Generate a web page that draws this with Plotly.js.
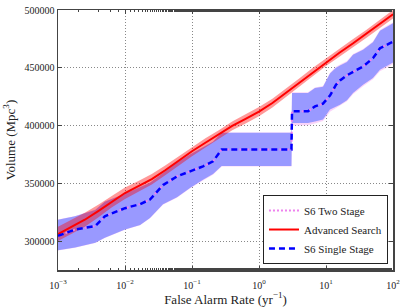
<!DOCTYPE html>
<html><head><meta charset="utf-8">
<script src="https://cdn.plot.ly/plotly-3.0.1.min.js"></script>
<style>html,body{margin:0;padding:0;background:#fff}#chart{width:407px;height:307px}</style>
</head><body><div id="chart"></div>
<script>
// Advanced Search (red)
const advFAR = [0.001, 0.001585, 0.002512, 0.003981, 0.00631, 0.01, 0.01585, 0.02512, 0.03981, 0.0631, 0.1, 0.1585, 0.2512, 0.3981, 0.631, 1, 1.585, 2.512, 3.981, 6.31, 10, 15.85, 25.12, 39.81, 63.1, 100];
const advVol = [306000, 312300, 318500, 326000, 334000, 341600, 347600, 353600, 361300, 369600, 377800, 385100, 392400, 399700, 405800, 412000, 419500, 428300, 437200, 446200, 455000, 463000, 471000, 479200, 487600, 496300];
const advUpper = [312500, 318500, 324500, 331500, 339000, 346500, 352000, 358000, 365500, 373500, 381500, 389000, 396000, 403500, 409800, 416000, 423300, 431800, 440800, 449900, 458400, 466500, 474700, 482700, 491000, 500000];
const advLower = [300000, 306500, 312500, 320500, 329000, 336500, 343000, 349000, 357000, 365500, 373500, 381000, 388500, 396000, 401800, 408000, 415700, 424800, 433600, 442500, 451600, 459500, 467300, 475700, 484200, 492600];

// S6 Single Stage (blue)
const s6FAR = [0.001, 0.0018, 0.0036, 0.005, 0.01, 0.0168, 0.0236, 0.0369, 0.0597, 0.0933, 0.146, 0.206, 0.277, 3.05, 3.11, 5.38, 6.85, 9.02, 11.47, 14.1, 16.18, 20.57, 25.3, 35.7, 50.2, 63.9, 90.2, 100];
const singleVol = [304500, 310000, 313000, 321500, 328500, 332000, 336000, 348500, 356000, 360500, 364700, 369000, 379300, 379300, 412300, 412300, 416600, 419000, 426000, 435300, 439000, 443500, 446500, 451100, 458300, 466900, 471300, 472500];
const singleLower = [292000, 294500, 298500, 303000, 310000, 314000, 320000, 332000, 338000, 346000, 353000, 358000, 365000, 365000, 402300, 402300, 403500, 405200, 413800, 416000, 418100, 422000, 428200, 435300, 441100, 448300, 452600, 454500];
const singleUpper = [318500, 321500, 327000, 334000, 341000, 346500, 350500, 359000, 368000, 375000, 381000, 386000, 393700, 393700, 428200, 428200, 432500, 433500, 445000, 450000, 452000, 455000, 461200, 465500, 472000, 482000, 487000, 488500];

// S6 Two Stage (pink, mostly hidden)
const twoVol = [304500, 310000, 313000, 321500, 328500, 332000, 336000, 348500, 356000, 360500, 364700, 369000, 379300, 379300, 412300, 412300, 416600, 419000, 426000, 435300, 439000, 443500, 446500, 451100, 458300, 466900, 471300, 472500];
const twoLower = [291800, 294300, 298300, 302800, 309800, 313800, 319800, 331500, 337500, 345500, 352500, 357500, 364500, 364500, 400000, 400300, 401800, 404000, 412000, 415000, 417000, 421000, 427000, 434000, 440000, 447000, 451500, 453500];
const twoUpper = [318800, 321800, 327300, 334300, 341300, 346800, 350800, 359300, 368300, 375300, 381300, 386300, 394000, 394000, 428800, 428800, 433000, 434200, 445800, 450800, 452800, 455800, 462000, 466300, 472800, 482800, 487800, 489200];

const xTickVals = [0.001, 0.01, 0.1, 1, 10, 100];
const xTickText = ['10<sup>−3</sup>', '10<sup>−2</sup>', '10<sup>−1</sup>', '10<sup>0</sup>', '10<sup>1</sup>', '10<sup>2</sup>'];
const yTickVals = [300000, 350000, 400000, 450000, 500000];
const yTickText = ['300000', '350000', '400000', '450000', '500000'];

const F = 'Liberation Serif';
const none = {width: 0};
const data = [
  {x: s6FAR, y: twoLower, mode: 'lines', line: none, showlegend: false, hoverinfo: 'skip'},
  {x: s6FAR, y: twoUpper, mode: 'lines', line: none, fill: 'tonexty', fillcolor: 'rgba(238,130,238,0.35)', showlegend: false, hoverinfo: 'skip'},
  {x: s6FAR, y: singleLower, mode: 'lines', line: none, showlegend: false, hoverinfo: 'skip'},
  {x: s6FAR, y: singleUpper, mode: 'lines', line: none, fill: 'tonexty', fillcolor: 'rgb(153,153,255)', showlegend: false, hoverinfo: 'skip'},
  {x: advFAR, y: advLower, mode: 'lines', line: none, showlegend: false, hoverinfo: 'skip'},
  {x: advFAR, y: advUpper, mode: 'lines', line: none, fill: 'tonexty', fillcolor: 'rgba(255,0,0,0.4)', showlegend: false, hoverinfo: 'skip'},
  {x: s6FAR, y: twoVol, mode: 'lines', name: 'S6 Two Stage', line: {color: 'violet', width: 2, dash: '2px,2px'}},
  {x: advFAR, y: advVol, mode: 'lines', name: 'Advanced Search', line: {color: 'red', width: 2}},
  {x: s6FAR, y: singleVol, mode: 'lines', name: 'S6 Single Stage', line: {color: 'blue', width: 2.5, dash: '6px,4px'}}
];

const axisCommon = {
  showline: true, linecolor: '#444', linewidth: 1.5, mirror: 'allticks',
  ticks: 'inside', ticklen: 4, tickcolor: '#444', tickwidth: 1,
  showgrid: true, gridcolor: '#888', griddash: '1px,2px', gridwidth: 1,
  zeroline: false, tickfont: {family: F, size: 10, color: '#222'}
};

const layout = {
  width: 407, height: 307,
  margin: {l: 58, r: 14, t: 10, b: 37},
  paper_bgcolor: '#fff', plot_bgcolor: '#fff',
  font: {family: F, color: '#222'},
  xaxis: Object.assign({}, axisCommon, {
    type: 'log', range: [-3, 2],
    tickmode: 'array', tickvals: xTickVals, ticktext: xTickText,
    ticklabelstandoff: 5,
    minor: {ticks: 'inside', ticklen: 2, tickcolor: '#444', showgrid: false},
    title: {text: 'False Alarm Rate (yr<sup>−1</sup>)', font: {family: F, size: 13, color: '#222'}, standoff: 0}
  }),
  yaxis: Object.assign({}, axisCommon, {
    range: [275000, 500000],
    tickmode: 'array', tickvals: yTickVals, ticktext: yTickText,
    title: {text: 'Volume (Mpc<sup>3</sup>)', font: {family: F, size: 13, color: '#222'}, standoff: 6}
  }),
  legend: {
    x: 0.985, y: 0.023, xanchor: 'right', yanchor: 'bottom',
    traceorder: 'normal',
    bgcolor: '#fff', bordercolor: '#222', borderwidth: 1,
    font: {family: F, size: 11, color: '#222'}, tracegroupgap: 0
  },
  showlegend: true
};

Plotly.newPlot('chart', data, layout, {staticPlot: true, displayModeBar: false});
</script>
</body></html>
